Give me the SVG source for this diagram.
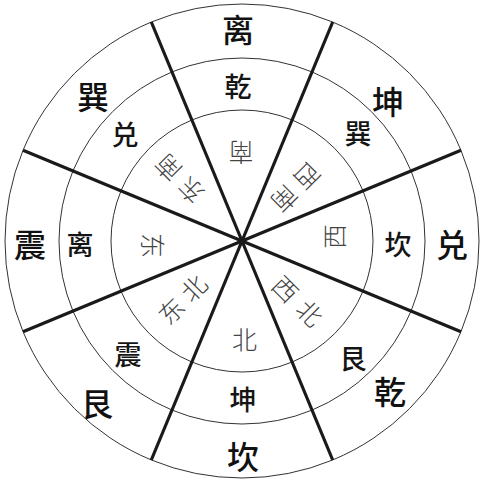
<svg xmlns="http://www.w3.org/2000/svg" width="486" height="485" viewBox="0 0 486 485">
<style>
.ring{fill:none;stroke:#333;stroke-width:1}
.spoke{stroke:#1a1a1a;stroke-width:3.2;stroke-linecap:butt}
text{font-family:"Noto Sans CJK SC","Noto Sans CJK TC",sans-serif;text-anchor:middle;dominant-baseline:central}
.o{font-size:32px;font-weight:500;fill:#111}
.m{font-size:27px;font-weight:500;fill:#151515}
.i{font-size:25px;font-weight:300;fill:#444}
</style>
<rect width="486" height="485" fill="#fff"/>
<g id="rings">
<circle class="ring" cx="242" cy="241" r="237"/>
<circle class="ring" cx="242" cy="241" r="183"/>
<circle class="ring" cx="242" cy="241" r="131"/>
</g>
<g id="connectors">
<line class="spoke" x1="332.7" y1="22" x2="151.3" y2="460"/>
<line class="spoke" x1="461" y1="150.3" x2="23" y2="331.7"/>
<line class="spoke" x1="461" y1="331.7" x2="23" y2="150.3"/>
<line class="spoke" x1="332.7" y1="460" x2="151.3" y2="22"/>
</g>
<g id="outer">
<text class="o" x="238" y="28">离</text>
<text class="o" x="388" y="100">坤</text>
<text class="o" x="452" y="243">兑</text>
<text class="o" x="390" y="390">乾</text>
<text class="o" x="243" y="455">坎</text>
<text class="o" x="97" y="402">艮</text>
<text class="o" x="30" y="243">震</text>
<text class="o" x="93" y="95">巽</text>
</g>
<g id="middle">
<text class="m" x="238" y="85">乾</text>
<text class="m" x="358" y="132">巽</text>
<text class="m" x="398" y="243">坎</text>
<text class="m" x="353" y="357">艮</text>
<text class="m" x="243" y="398">坤</text>
<text class="m" x="128" y="353">震</text>
<text class="m" x="80" y="243">离</text>
<text class="m" x="125" y="133">兑</text>
</g>
<g id="inner">
<g id="n-south" transform="translate(241,153.5) rotate(180)"><text class="i" x="0" y="0">南</text></g>
<g id="n-southwest" transform="translate(297,188.5) rotate(135)"><text class="i" x="-16" y="0">西</text><text class="i" x="16" y="0">南</text></g>
<g id="n-west" transform="translate(332.5,236.5) rotate(-90)"><text class="i" x="0" y="0">西</text></g>
<g id="n-northwest" transform="translate(298.5,300) rotate(45)"><text class="i" x="-17" y="0">西</text><text class="i" x="17" y="0">北</text></g>
<g id="n-north" transform="translate(244.5,337.5)"><text class="i" x="0" y="0">北</text></g>
<g id="n-northeast" transform="translate(181.5,298.5) rotate(-45)"><text class="i" x="-16" y="0">东</text><text class="i" x="16" y="0">北</text></g>
<g id="n-east" transform="translate(153.5,245.5) rotate(90)"><text class="i" x="0" y="0">东</text></g>
<g id="n-southeast" transform="translate(178.5,180) rotate(-135)"><text class="i" x="-16" y="0">东</text><text class="i" x="16" y="0">南</text></g>
</g>
</svg>
